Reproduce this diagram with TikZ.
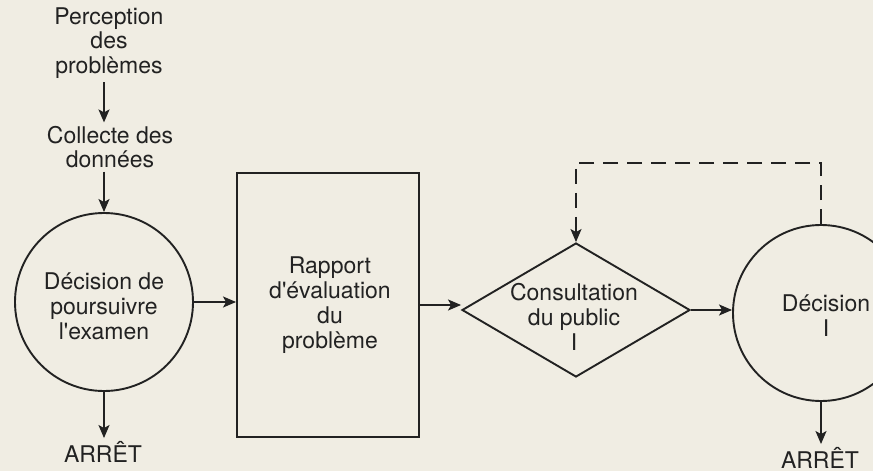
\documentclass[tikz,border=0pt]{standalone}
\usepackage{fontspec}
\setmainfont{TeX Gyre Heros}
\usetikzlibrary{shapes.geometric,arrows.meta}
\definecolor{bg}{HTML}{F0EDE3}
\definecolor{ink}{HTML}{222222}
\begin{document}
\begin{tikzpicture}[x=0.5pt,y=-0.5pt,
  every node/.style={text=ink,font=\fontsize{11.5}{12.4}\selectfont,align=center,inner sep=1.5pt},
  conn/.style={draw=ink,line width=0.95pt,-{Stealth[length=6.5pt,width=5.5pt,inset=1.5pt]}},
  shapeline/.style={draw=ink,line width=0.95pt},
  dashconn/.style={conn,dash pattern=on 7.5pt off 4.5pt}]
\useasboundingbox[fill=bg] (0,0) rectangle (873,471);
\clip (0,0) rectangle (873,471);

% texts
\node (p) at (109,43) {Perception\\des\\problèmes};
\node (c) at (110,147) {Collecte des\\données};
\node[shapeline,circle,minimum size=89pt] (L) at (104,302) {};
\node at (104,306) {Décision de\\poursuivre\\l\textquotesingle examen};
\node (a1) at (103,452) {ARRÊT};

\node[shapeline,rectangle,minimum width=91pt,minimum height=132pt,inner sep=0pt] (B) at (328,305) {};
\node at (330,305) {Rapport\\d\textquotesingle évaluation\\du\\problème};

\node[shapeline,diamond,minimum width=114pt,minimum height=67pt,inner sep=0pt,aspect=1.7] (D) at (576,310) {};
\node at (574,317) {Consultation\\du public\\I};

\node[shapeline,circle,minimum size=88pt] (R) at (821,313) {};
\node at (826,316) {Décision\\I};
\node (a2) at (820,458) {ARRÊT};

\coordinate (dtop) at (700,163);

% connectors
\draw[conn] (p.south -| L.north) -- (c.north -| L.north);
\draw[conn] (c.south -| L.north) -- (L.north);
\draw[conn] (L.east) -- (L.east -| B.west);
\draw[conn] (B.east) -- (B.east -| D.west);
\draw[conn] (D.east) -- (D.east -| R.west);
\draw[dashconn] (R.north) -- (R.north |- dtop) -| (D.north);
\draw[conn] (L.south) -- (L.south |- a1.north);
\draw[conn] (R.south) -- (R.south |- a2.north);
\end{tikzpicture}
\end{document}
